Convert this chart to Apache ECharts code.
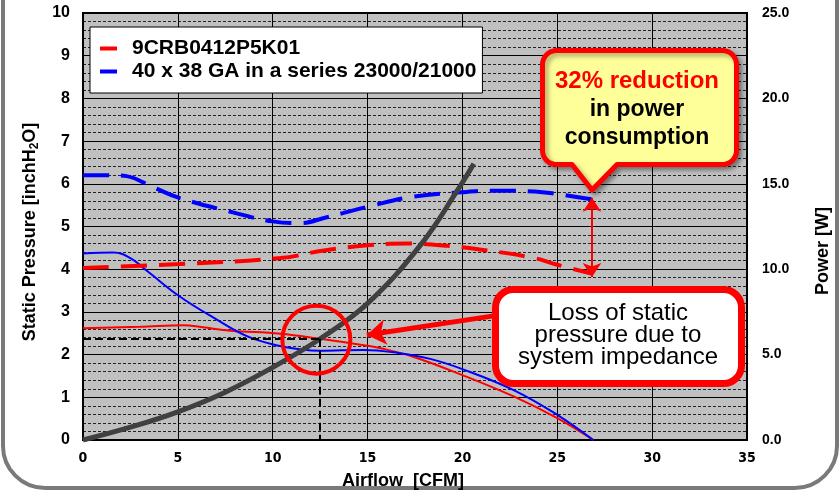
<!DOCTYPE html>
<html><head><meta charset="utf-8">
<script src="https://cdn.jsdelivr.net/npm/echarts@6.0.0/dist/echarts.min.js"></script>
<style>html,body{margin:0;padding:0;background:#fff}#c{width:840px;height:493px}</style>
</head><body><div id="c"></div>
<script>
// ---------- data ----------
const seriesNames = ['9CRB0412P5K01', '40 x 38 GA in a series 23000/21000'];
const impedanceName = 'System impedance';

// Static pressure [inchH2O] vs airflow [CFM]
const redPressureFlow = [0, 3, 5.3, 6.3, 7.8, 10.4, 12.5, 14.8, 15.7, 17.4, 20, 22.7, 25, 26.9];
const redPressure     = [2.62, 2.65, 2.69, 2.64, 2.56, 2.49, 2.37, 2.22, 2.15, 1.95, 1.52, 1.02, 0.51, 0];

const bluePressureFlow = [0, 1.6, 2.5, 3.4, 5.1, 6.9, 8.7, 10.4, 11.5, 12.5, 14.8, 16.6, 18.3, 20, 22.7, 25, 26.9];
const bluePressure     = [4.37, 4.39, 4.26, 3.95, 3.36, 2.86, 2.42, 2.2, 2.12, 2.09, 2.11, 2.04, 1.9, 1.66, 1.17, 0.59, 0];

// Power [W] vs airflow [CFM]
const redPowerFlow = [0, 5.1, 10.4, 12.7, 15, 17.1, 19.2, 21.3, 23.8, 25, 26.8];
const redPower     = [10.07, 10.3, 10.65, 11.1, 11.4, 11.5, 11.37, 11.1, 10.65, 10.26, 9.75];

const bluePowerFlow = [0, 1.6, 2.3, 3.7, 5, 8, 10, 11.5, 12.7, 15, 17.4, 19.9, 21.7, 23.8, 25, 26.8];
const bluePower     = [15.5, 15.5, 15.45, 14.8, 14.2, 13.3, 12.8, 12.7, 13.0, 13.65, 14.25, 14.5, 14.6, 14.55, 14.4, 14.1];

// System impedance curve [inchH2O]
const impedanceFlow     = [0, 2.5, 5, 7.5, 10, 12.5, 15, 17.8, 19.7, 20.6];
const impedancePressure = [0, 0.3, 0.66, 1.12, 1.7, 2.37, 3.2, 4.57, 5.82, 6.47];

// Operating point & annotation anchors (data coordinates)
const operatingPoint = [12.5, 2.37];
const circleCenter = [12.3, 2.35];
const lossArrowFrom = [22.0, 2.93];
const lossArrowTo   = [14.96, 2.46];
const powerArrowFlow = 26.83;
const powerArrowTop = 14.18;
const powerArrowBottom = 9.55;

// axis ticks
const xTicks = {min: 0, max: 35, interval: 5};
const pressureTicks = {min: 0, max: 10, interval: 1};
const powerTicks = {min: 0, max: 25, interval: 5};

// ---------- chart ----------
const F = "'Liberation Sans', Arial, Helvetica, sans-serif";
const FN = "'Liberation Sans Narrow', 'Arial Narrow', 'DejaVu Sans Condensed', 'Liberation Sans', sans-serif";
const zip = (xs, ys) => xs.map((x, i) => [x, ys[i]]);

// rounded-rectangle callout outline with a pointer on the bottom edge
function calloutPoints(x0, y0, x1, y1, r, pL, pTip, pR) {
  const pts = [];
  const arc = (cx, cy, a0, a1) => {
    for (let i = 0; i <= 8; i++) {
      const a = a0 + (a1 - a0) * i / 8;
      pts.push([cx + r * Math.cos(a), cy + r * Math.sin(a)]);
    }
  };
  arc(x0 + r, y0 + r, Math.PI, 1.5 * Math.PI);
  arc(x1 - r, y0 + r, 1.5 * Math.PI, 2 * Math.PI);
  arc(x1 - r, y1 - r, 0, 0.5 * Math.PI);
  pts.push([pR, y1]); pts.push(pTip); pts.push([pL, y1]);
  arc(x0 + r, y1 - r, 0.5 * Math.PI, Math.PI);
  return pts;
}

const chart = echarts.init(document.getElementById('c'), null, {renderer: 'canvas'});

const option = {
  animation: false,
  backgroundColor: '#fff',
  grid: {left: 83, right: 93, top: 13, bottom: 53, show: true,
         backgroundColor: '#c0c0c0', borderColor: '#000', borderWidth: 2},
  legend: {
    left: 90, top: 27, orient: 'vertical', selectedMode: false,
    padding: [11, 6, 11, 10], itemGap: 2, itemWidth: 17, itemHeight: 4,
    backgroundColor: '#fff', borderColor: '#000', borderWidth: 1,
    textStyle: {fontSize: 21, fontWeight: 'bold', fontFamily: F, color: '#000', lineHeight: 20, padding: [0, 0, 0, 10]},
    data: [
      {name: seriesNames[0], icon: 'rect', itemStyle: {color: '#ff0000', borderWidth: 0}},
      {name: seriesNames[1], icon: 'rect', itemStyle: {color: '#0000ff', borderWidth: 0}}
    ]
  },
  xAxis: {
    type: 'value', min: xTicks.min, max: xTicks.max, interval: xTicks.interval,
    axisLine: {show: true, onZero: false, lineStyle: {color: '#000', width: 2}},
    axisTick: {show: false},
    axisLabel: {margin: 11, fontSize: 14, fontWeight: 'bold', fontFamily: FN, color: '#000'},
    splitLine: {show: true, lineStyle: {color: '#000', width: 1}}
  },
  yAxis: [
    {
      type: 'value', min: pressureTicks.min, max: pressureTicks.max, interval: pressureTicks.interval,
      axisLine: {show: true, lineStyle: {color: '#000', width: 2}},
      axisTick: {show: false},
      axisLabel: {margin: 13, fontSize: 16, fontWeight: 'bold', fontFamily: F, color: '#000'},
      splitLine: {show: true, lineStyle: {color: '#000', width: 1}},
      minorTick: {show: false, splitNumber: 5},
      minorSplitLine: {show: true, lineStyle: {color: '#222', width: 1, type: [3, 2]}}
    },
    {
      type: 'value', position: 'right', min: powerTicks.min, max: powerTicks.max, interval: powerTicks.interval,
      axisLine: {show: false}, axisTick: {show: false},
      axisLabel: {margin: 15, fontSize: 14, fontWeight: 'bold', fontFamily: F, color: '#000',
                  formatter: v => v.toFixed(1)},
      splitLine: {show: false}
    }
  ],
  series: [
    {
      name: seriesNames[0], type: 'line', yAxisIndex: 0, data: zip(redPressureFlow, redPressure),
      showSymbol: false, symbol: 'none', smooth: 0.4, z: 3,
      lineStyle: {color: '#ff0000', width: 2}, itemStyle: {color: '#ff0000'},
      markLine: {
        silent: true, animation: false, label: {show: false},
        symbol: ['none', 'arrow'], symbolSize: 19,
        lineStyle: {color: '#ff0000', width: 5, type: 'solid'},
        data: [[{coord: lossArrowFrom}, {coord: lossArrowTo}]]
      }
    },
    {
      name: seriesNames[1], type: 'line', yAxisIndex: 0, data: zip(bluePressureFlow, bluePressure),
      showSymbol: false, symbol: 'none', smooth: 0.4, z: 3,
      lineStyle: {color: '#0000ff', width: 2}, itemStyle: {color: '#0000ff'}
    },
    {
      name: seriesNames[0], type: 'line', yAxisIndex: 1, data: zip(redPowerFlow, redPower),
      showSymbol: false, symbol: 'none', smooth: 0.4, z: 3,
      lineStyle: {color: '#ff0000', width: 4, type: [26, 12]}, itemStyle: {color: '#ff0000'}
    },
    {
      name: seriesNames[1], type: 'line', yAxisIndex: 1, data: zip(bluePowerFlow, bluePower),
      showSymbol: false, symbol: 'none', smooth: 0.4, z: 3,
      lineStyle: {color: '#0000ff', width: 4, type: [26, 12]}, itemStyle: {color: '#0000ff'},
      markLine: {
        silent: true, animation: false, label: {show: false},
        symbol: ['arrow', 'arrow'], symbolSize: 14,
        lineStyle: {color: '#ff0000', width: 2, type: 'solid'},
        data: [[{coord: [powerArrowFlow, powerArrowTop]}, {coord: [powerArrowFlow, powerArrowBottom]}]]
      }
    },
    {
      name: impedanceName, type: 'line', yAxisIndex: 0, data: zip(impedanceFlow, impedancePressure),
      showSymbol: false, symbol: 'none', smooth: 0.4, z: 4,
      lineStyle: {color: '#404040', width: 5}, itemStyle: {color: '#404040'},
      markLine: {
        silent: true, animation: false, label: {show: false}, symbol: ['none', 'none'],
        lineStyle: {color: '#000', width: 2, type: [8, 4]},
        data: [
          [{coord: [xTicks.min, operatingPoint[1]]}, {coord: operatingPoint}],
          [{coord: operatingPoint}, {coord: [operatingPoint[0], pressureTicks.min]}]
        ]
      },
      markPoint: {
        silent: true, animation: false, label: {show: false},
        symbol: 'circle', symbolSize: 68,
        itemStyle: {color: 'rgba(0,0,0,0)', borderColor: '#ff0000', borderWidth: 4},
        data: [{coord: circleCenter}]
      }
    }
  ],
  graphic: [
    // outer rounded panel frame
    {type: 'rect', z: 0, silent: true,
     shape: {x: 3, y: -80, width: 834, height: 568, r: 42},
     style: {fill: 'none', stroke: '#7a7a7a', lineWidth: 4}},
    // axis names
    {type: 'text', z: 10, x: 30, y: 232, rotation: Math.PI / 2,
     style: {text: '{a|Static Pressure [inchH}{s|2}{a|O]}', align: 'center', verticalAlign: 'middle', fill: '#000',
             rich: {a: {fontSize: 18, fontWeight: 'bold', fontFamily: F, fill: '#000'},
                    s: {fontSize: 12, fontWeight: 'bold', fontFamily: F, fill: '#000', padding: [9, 0, 0, 0]}}}},
    {type: 'text', z: 10, x: 403, y: 481,
     style: {text: 'Airflow  [CFM]', align: 'center', verticalAlign: 'middle', fill: '#000',
             font: 'bold 18px ' + F}},
    {type: 'text', z: 10, x: 823, y: 251, rotation: Math.PI / 2,
     style: {text: 'Power [W]', align: 'center', verticalAlign: 'middle', fill: '#000',
             font: 'bold 18px ' + F}},
    // yellow callout
    {type: 'polygon', z: 100, silent: true,
     shape: {points: calloutPoints(542.5, 50.5, 736.5, 164.5, 14, 572, [592, 190], 617)},
     style: {fill: '#ffff99', stroke: '#ff0000', lineWidth: 5, lineJoin: 'round',
             shadowBlur: 5, shadowOffsetX: 3, shadowOffsetY: 3, shadowColor: 'rgba(0,0,0,0.35)'}},
    {type: 'text', z: 101, x: 637, y: 81,
     style: {text: '32% reduction', align: 'center', verticalAlign: 'middle', fill: '#ff0000', font: 'bold 24px ' + F}},
    {type: 'text', z: 101, x: 637, y: 110,
     style: {text: 'in power', align: 'center', verticalAlign: 'middle', fill: '#000', font: 'bold 23px ' + F}},
    {type: 'text', z: 101, x: 637, y: 138,
     style: {text: 'consumption', align: 'center', verticalAlign: 'middle', fill: '#000', font: 'bold 23px ' + F}},
    // white callout
    {type: 'rect', z: 100, silent: true,
     shape: {x: 495.5, y: 289.5, width: 246, height: 94, r: 18},
     style: {fill: '#fff', stroke: '#ff0000', lineWidth: 7}},
    {type: 'text', z: 101, x: 618, y: 313,
     style: {text: 'Loss of static', align: 'center', verticalAlign: 'middle', fill: '#000', font: '24px ' + F}},
    {type: 'text', z: 101, x: 618, y: 335,
     style: {text: 'pressure due to', align: 'center', verticalAlign: 'middle', fill: '#000', font: '24px ' + F}},
    {type: 'text', z: 101, x: 618, y: 357,
     style: {text: 'system impedance', align: 'center', verticalAlign: 'middle', fill: '#000', font: '24px ' + F}}
  ]
};
chart.setOption(option);
</script></body></html>
